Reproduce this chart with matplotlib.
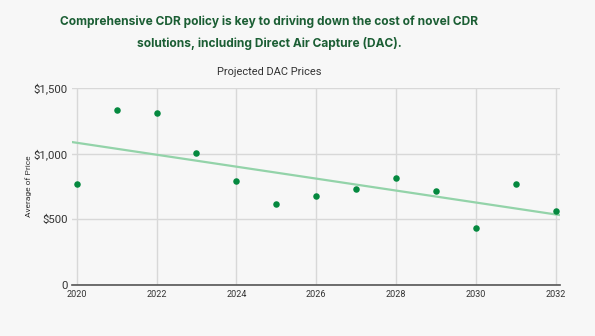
import numpy as np
import matplotlib
matplotlib.use('Agg')
from matplotlib import pyplot as plt
from matplotlib.ticker import FuncFormatter

years = [2020, 2021, 2022, 2023, 2024, 2025, 2026, 2027, 2028, 2029, 2030, 2031, 2032]
prices = [767, 1335, 1312, 1005, 792, 617, 678, 729, 812, 716, 437, 767, 563]
x_ticks = [2020, 2022, 2024, 2026, 2028, 2030, 2032]
y_ticks = [0, 500, 1000, 1500]

headline = ["Comprehensive CDR policy is key to driving down the cost of novel CDR",
            "solutions, including Direct Air Capture (DAC)."]
chart_title = "Projected DAC Prices"

bg = '#f7f7f7'
dot_color = '#05893f'
trend_color = '#93d3a9'
grid_color = '#d8d8d8'

fig = plt.figure(figsize=(5.95, 3.36), dpi=100, facecolor=bg)
ax = fig.add_axes([0.121, 0.152, 0.820, 0.586], facecolor=bg)

# linear trend across all years
slope, intercept = np.polyfit(years, prices, 1)
xlim = (2019.88, 2032.11)
tx = np.array(xlim)
ax.plot(tx, slope * tx + intercept, color=trend_color, lw=1.6, zorder=2)
ax.scatter(years, prices, s=22, color=dot_color, zorder=3, linewidths=0)

ax.set_xlim(*xlim)
ax.set_ylim(0, 1500)
ax.set_xticks(x_ticks)
ax.set_yticks(y_ticks)
ax.yaxis.set_major_formatter(FuncFormatter(lambda v, p: '0' if v == 0 else f'${v:,.0f}'))
ax.grid(True, color=grid_color, lw=1)
ax.set_axisbelow(True)
for side in ['top', 'right', 'left']:
    ax.spines[side].set_visible(False)
ax.spines['bottom'].set_color('#555555')
ax.spines['bottom'].set_linewidth(1.2)
ax.tick_params(length=0, colors='#333333')
ax.tick_params(axis='x', labelsize=6.5, pad=4)
ax.tick_params(axis='y', labelsize=8.2, pad=3)
for lbl in ax.get_xticklabels() + ax.get_yticklabels():
    lbl.set_family('Roboto')

ax.set_ylabel('Average of Price', fontsize=6, family='Roboto', color='#333333', labelpad=1)

for i, line in enumerate(headline):
    fig.text(269 / 595, 1 - (22 + 21 * i) / 336, line, ha='center', va='center', fontsize=8.6,
             fontweight='bold', family='Inter', color='#1b5e34')
fig.text(269 / 595, 1 - 72 / 336, chart_title, ha='center', va='center', fontsize=7.9,
         family='Roboto', color='#333333')

fig.savefig('out.png', dpi=100, facecolor=bg)
